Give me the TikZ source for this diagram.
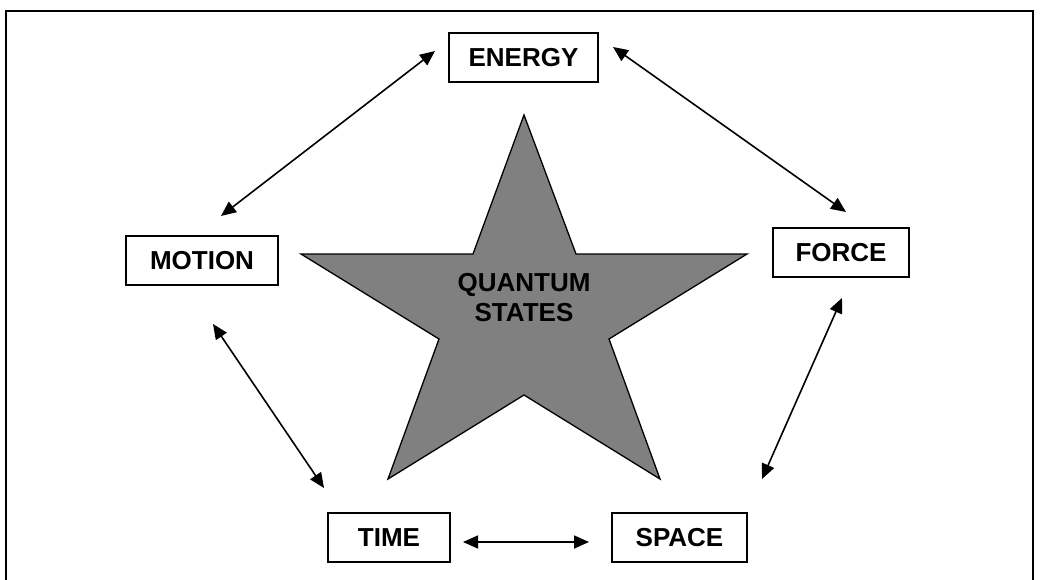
\documentclass[tikz,border=0pt]{standalone}
\usepackage{fontspec}
\setmainfont{Liberation Sans}
\usetikzlibrary{arrows.meta}

\begin{document}
\begin{tikzpicture}[x=1pt,y=-1pt,
  concept/.style={draw,line width=1.9pt,minimum height=49pt,inner sep=0pt,
    font=\fontsize{26}{30}\selectfont\bfseries},
  link/.style={{Triangle[length=15pt,width=13pt]}-{Triangle[length=15pt,width=13pt]},
    line width=1.6pt}]
\useasboundingbox (0,0) rectangle (1041,580);
% frame
\draw[line width=2.8pt] (6,580) -- (6,11) -- (1033,11) -- (1033,580);
% star
\filldraw[fill=black!50,line width=1.3pt,line join=miter]
  (524,115) -- (576,254) -- (747,254) -- (609,339) -- (660,479) -- (524,395)
  -- (388,479) -- (439,339) -- (301,254) -- (473,254) -- cycle;
\node[align=center,font=\fontsize{26}{30}\selectfont\bfseries] (quantum) at (524,298) {QUANTUM\\STATES};
% concepts
\node[concept,minimum width=149pt] (energy) at (523.5,57.5) {ENERGY};
\node[concept,minimum width=152pt] (motion) at (202,260.5) {MOTION};
\node[concept,minimum width=136pt] (force) at (841,252.5) {FORCE};
\node[concept,minimum width=122pt] (time) at (389,537.5) {TIME};
\node[concept,minimum width=135pt] (space) at (679.5,537.5) {SPACE};
% arrow ends
\coordinate (me1) at (221,216);  \coordinate (me2) at (435,51);
\coordinate (ef1) at (613,47);   \coordinate (ef2) at (846,212);
\coordinate (mt1) at (213,324);  \coordinate (mt2) at (324,488);
\coordinate (fs1) at (842,298);  \coordinate (fs2) at (762,479);
\coordinate (ts1) at (463,542);  \coordinate (ts2) at (589,542);
\draw[link] (me1) -- (me2);
\draw[link] (ef1) -- (ef2);
\draw[link] (mt1) -- (mt2);
\draw[link] (fs1) -- (fs2);
\draw[link] (ts1) -- (ts2);
\end{tikzpicture}
\end{document}
